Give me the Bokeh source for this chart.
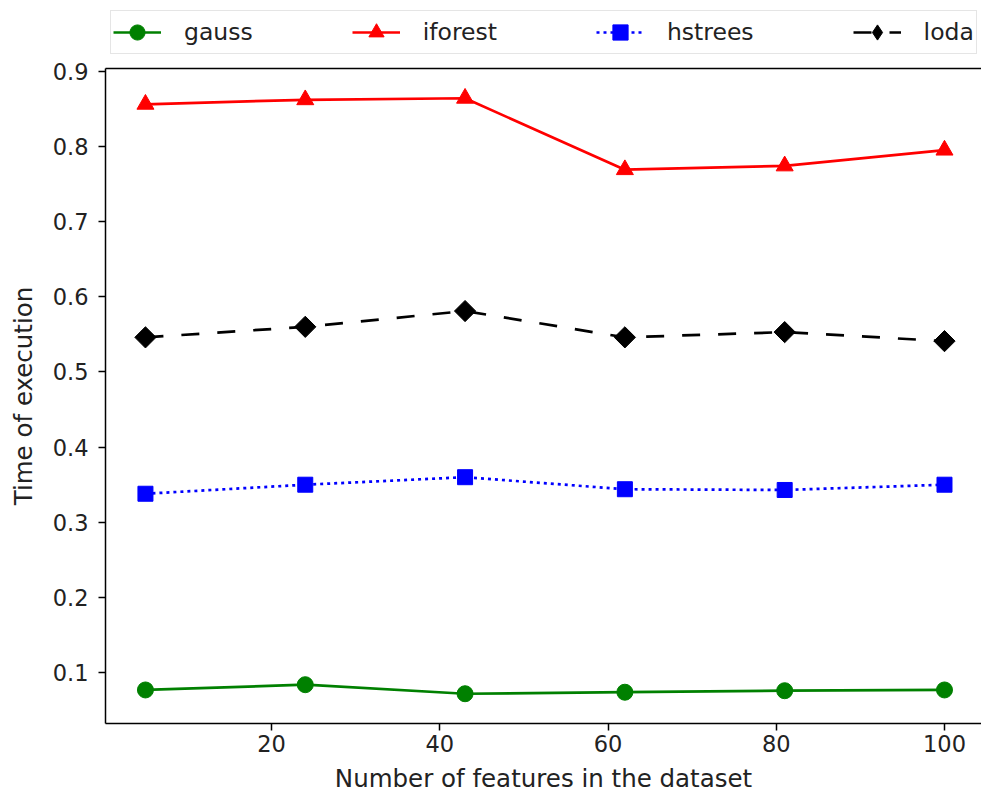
import math

from bokeh.embed import file_html
from bokeh.layouts import column
from bokeh.models import FixedTicker, Legend, LegendItem, LinearAxis, Range1d
from bokeh.plotting import figure
from bokeh.resources import INLINE

# Number of features and execution time per detector
features = [5, 24, 43, 62, 81, 100]
gauss = [0.077, 0.084, 0.072, 0.074, 0.076, 0.077]
iforest = [0.856, 0.862, 0.864, 0.769, 0.774, 0.795]
hstrees = [0.338, 0.350, 0.360, 0.344, 0.343, 0.350]
loda = [0.546, 0.560, 0.581, 0.546, 0.553, 0.541]

x_ticks = [20, 40, 60, 80, 100]
y_ticks = [0.1, 0.2, 0.3, 0.4, 0.5, 0.6, 0.7, 0.8, 0.9]

FONT = "DejaVu Sans"
TICK_SIZE = "22.5px"
AXIS_LABEL_SIZE = "24.5px"
LEGEND_SIZE = "23.5px"
TEXT_COLOR = "#222222"

LEGEND_H = 58
WIDTH = 981
HEIGHT = 796

# ---- main axes -------------------------------------------------------------
p = figure(
    width=WIDTH,
    height=HEIGHT - LEGEND_H,
    x_range=Range1d(0.25, 104.4),
    y_range=Range1d(0.0324, 0.9036),
    output_backend="svg",
    toolbar_location=None,
    x_axis_label="Number of features in the dataset",
    y_axis_label="Time of execution",
    min_border_left=105,
    min_border_right=0,
    min_border_top=10,
    min_border_bottom=73,
)
p.outline_line_color = None
p.xgrid.visible = False
p.ygrid.visible = False
p.background_fill_color = "white"
p.border_fill_color = "white"

for ax in (p.xaxis[0], p.yaxis[0]):
    ax.axis_line_color = "black"
    ax.axis_line_width = 1.5
    ax.major_tick_line_color = "black"
    ax.major_tick_line_width = 1.5
    ax.major_tick_out = 7
    ax.major_tick_in = 0
    ax.minor_tick_line_color = None
    ax.major_label_text_font = FONT
    ax.major_label_text_font_size = TICK_SIZE
    ax.major_label_text_color = TEXT_COLOR
    ax.axis_label_text_font = FONT
    ax.axis_label_text_font_size = AXIS_LABEL_SIZE
    ax.axis_label_text_font_style = "normal"
    ax.axis_label_text_color = TEXT_COLOR

p.xaxis[0].ticker = FixedTicker(ticks=x_ticks)
p.yaxis[0].ticker = FixedTicker(ticks=y_ticks)
p.xaxis[0].major_label_standoff = 4
p.xaxis[0].axis_label_standoff = 9
p.yaxis[0].major_label_standoff = 10
p.yaxis[0].axis_label_standoff = 12

# Top spine of the axes box (no ticks, no labels)
top = LinearAxis(
    ticker=FixedTicker(ticks=[]),
    major_label_text_font_size="0px",
    major_label_standoff=0,
    major_tick_out=0,
    major_tick_in=0,
    major_tick_line_color=None,
    minor_tick_line_color=None,
    axis_line_color="black",
    axis_line_width=1.5,
)
p.add_layout(top, "above")

series = [
    ("gauss", gauss, "#008000", "solid", "circle", 16, 0.0, "circle"),
    ("iforest", iforest, "#ff0000", "solid", "triangle", 17, 0.0, "triangle"),
    ("hstrees", hstrees, "#0000ff", "3 4", "square", 15, 0.0, "square"),
    ("loda", loda, "#000000", "18 18", "square", 15, math.pi / 4, "diamond"),
]

for name, values, color, dash, marker, size, angle, _ in series:
    p.line(features, values, line_color=color, line_width=2.7, line_dash=dash)
    p.scatter(
        features, values, marker=marker, size=size, angle=angle,
        fill_color=color, line_color=color,
    )

# ---- legend strip above the axes --------------------------------------------
lg = figure(
    width=WIDTH,
    height=LEGEND_H,
    x_range=Range1d(0, 1),
    y_range=Range1d(0, 1),
    output_backend="svg",
    toolbar_location=None,
    min_border=0,
)
lg.axis.visible = False
lg.xgrid.visible = False
lg.ygrid.visible = False
lg.outline_line_color = None
lg.background_fill_color = "white"
lg.border_fill_color = "white"

# Legend keys: hidden copies of each series, used only for their styling
items = []
for name, values, color, dash, marker, size, angle, key_marker in series:
    ln = lg.line(features, values, line_color=color, line_width=2.7,
                 line_dash=dash, visible=False)
    sc = lg.scatter(features, values, marker=key_marker,
                    fill_color=color, line_color=color, visible=False)
    items.append(LegendItem(label=name, renderers=[ln, sc]))

legend = Legend(
    items=items,
    orientation="horizontal",
    location=(5, 4),
    glyph_width=48,
    glyph_height=38,
    label_standoff=23,
    spacing=99,
    padding=2,
    margin=0,
    label_text_font=FONT,
    label_text_font_size=LEGEND_SIZE,
    label_text_color=TEXT_COLOR,
    border_line_color="#cccccc",
    border_line_width=1.5,
    background_fill_color="white",
    background_fill_alpha=1.0,
)
lg.add_layout(legend, "center")

open("out.html", "w").write(file_html(column(lg, p, spacing=0), INLINE))
